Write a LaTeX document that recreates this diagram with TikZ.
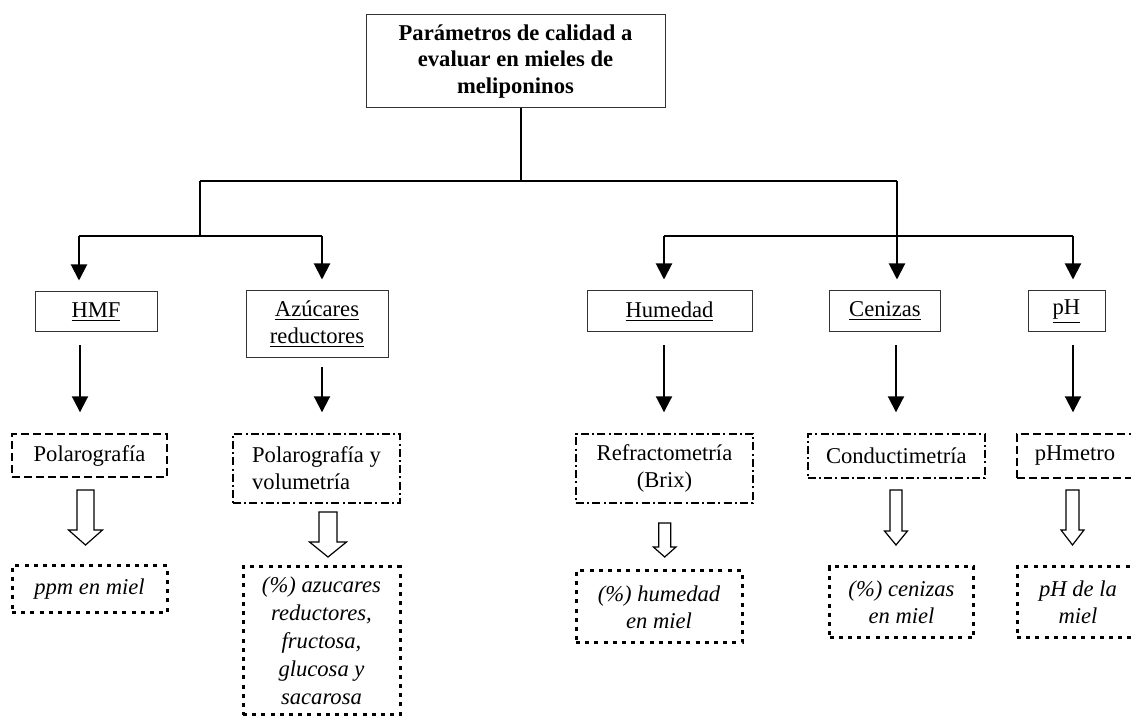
\documentclass[tikz,border=0pt]{standalone}
\usepackage{fontspec}
\setmainfont{Liberation Serif}
\usetikzlibrary{arrows.meta}
\newcommand\hollowdn[6]{%
  \draw[hol] ({#1-#5},#2) -- ({#1+#5},#2) -- ({#1+#5},#3) -- ({#1+#6},#3) -- (#1,#4) -- ({#1-#6},#3) -- ({#1-#5},#3) -- cycle;}
\tikzset{
  every node/.style={inner sep=0pt, align=center, font=\fontsize{11.3}{13.4}\selectfont},
  solidbox/.style={draw=black!80, line width=0.5pt},
  dashbox/.style={draw=black, line width=0.7pt, dash pattern=on 4pt off 2pt},
  dotdashbox/.style={draw=black, line width=0.7pt, dash pattern=on 4pt off 1.6pt on 1pt off 1.6pt},
  resbox/.style={draw=black, line width=1.5pt, dash pattern=on 2pt off 2.6pt},
  conn/.style={line width=1pt},
  arr/.style={conn, -{Triangle[width=8pt,length=8pt]}},
  hol/.style={draw=black, line width=0.6pt, fill=white},
}
\begin{document}
\begin{tikzpicture}[x=0.5pt,y=-0.5pt]
\path[use as bounding box, fill=white] (0,0) rectangle (1131,716);
\clip (0,0) rectangle (1131,716);

% top node
\node[solidbox, minimum width=149.5pt, minimum height=46.5pt, font=\fontsize{11.3}{13.4}\selectfont\bfseries] (top) at (515.5,61.5)
  {Parámetros de calidad a\\evaluar en mieles de\\meliponinos};

% level 1
\node[solidbox, minimum width=61pt, minimum height=20pt] (hmf) at (96,312) {\underline{HMF}};
\node[solidbox, minimum width=71pt, minimum height=33.5pt] (azu) at (317,324.5) {\underline{Azúcares}\\\underline{reductores}};
\node[solidbox, minimum width=82.5pt, minimum height=20.5pt] (hum) at (669.5,311.5) {\underline{Humedad}};
\node[solidbox, minimum width=55.5pt, minimum height=20.5pt] (cen) at (885,311.5) {\underline{Cenizas}};
\node[solidbox, minimum width=38.5pt, minimum height=20.5pt] (ph) at (1066.5,311.5) {\underline{pH}};

% level 2 (methods)
\node[dashbox, minimum width=77.5pt, minimum height=21.5pt] (pol) at (89.5,455.5) {Polarografía};
\node[dotdashbox, minimum width=83.5pt, minimum height=34.5pt, align=left] (polvol) at (316.5,468.5) {Polarografía y\\volumetría};
\node[dotdashbox, minimum width=88.5pt, minimum height=34.5pt] (ref) at (664.5,468.5) {Refractometría\\(Brix)};
\node[dotdashbox, minimum width=88.5pt, minimum height=22pt] (con) at (896.3,456) {Conductimetría};
\node[dashbox, minimum width=58pt, minimum height=22pt] (phm) at (1075,456) {pHmetro};

% level 3 (results)
\node[resbox, minimum width=77.5pt, minimum height=23.5pt, font=\fontsize{11.3}{13.4}\selectfont\itshape] (ppm) at (89.5,589.5) {ppm en miel};
\node[resbox, minimum width=78.5pt, minimum height=74pt, font=\fontsize{11.3}{14}\selectfont\itshape] (azr) at (321.5,641) {(\%) azucares\\reductores,\\fructosa,\\glucosa y\\sacarosa};
\node[resbox, minimum width=83pt, minimum height=36pt, font=\fontsize{11.3}{13.4}\selectfont\itshape] (humr) at (659,607) {(\%) humedad\\en miel};
\node[resbox, minimum width=72pt, minimum height=35.5pt, font=\fontsize{11.3}{13.4}\selectfont\itshape] (cenr) at (901.5,602.5) {(\%) cenizas\\en miel};
\node[resbox, minimum width=61pt, minimum height=35.5pt, font=\fontsize{11.3}{13.4}\selectfont\itshape] (phr) at (1078,602.5) {pH de la\\miel};

% tree connectors
\coordinate (j) at (521,181);
\coordinate (jl) at (200,181);
\coordinate (jr) at (897,181);
\coordinate (bl) at (200,236);
\coordinate (bl1) at (79,236);
\coordinate (bl2) at (322,236);
\coordinate (br1) at (664,236);
\coordinate (br2) at (1073,236);
\draw[conn] (j |- top.south) -- (j);
\draw[conn] (jl) -- (jr);
\draw[conn] (jl) -- (bl);
\draw[conn] (bl1) -- (bl2);
\draw[conn] (br1) -- (br2);
\draw[arr, shorten >=5.5pt] (bl1) -- (bl1 |- hmf.north);
\draw[arr, shorten >=5.5pt] (bl2) -- (bl2 |- azu.north);
\draw[arr, shorten >=5.5pt] (jr) -- (jr |- cen.north);
\draw[arr, shorten >=5.5pt] (br1) -- (br1 |- hum.north);
\draw[arr, shorten >=5.5pt] (br2) -- (br2 |- ph.north);

% second level arrows
\coordinate (xh) at (80,0);
\coordinate (xa) at (322,0);
\coordinate (xu) at (664,0);
\coordinate (xc) at (896,0);
\coordinate (xp) at (1073,0);
\draw[arr, shorten <=6.5pt, shorten >=10.5pt] (xh |- hmf.south) -- (xh |- pol.north);
\draw[arr, shorten <=4.5pt, shorten >=10.5pt] (xa |- azu.south) -- (xa |- polvol.north);
\draw[arr, shorten <=6.5pt, shorten >=10.5pt] (xu |- hum.south) -- (xu |- ref.north);
\draw[arr, shorten <=6.5pt, shorten >=10.5pt] (xc |- cen.south) -- (xc |- con.north);
\draw[arr, shorten <=6.5pt, shorten >=10.5pt] (xp |- ph.south) -- (xp |- phm.north);

% hollow arrows
\hollowdn{85.5}{490}{530}{545}{8.5}{17}
\hollowdn{328}{512}{542}{557}{9}{18.5}
\hollowdn{664.7}{523}{547}{557}{6}{11.3}
\hollowdn{896}{490}{531}{545}{6}{11.5}
\hollowdn{1072.5}{490}{530}{545}{6.5}{11.5}
\end{tikzpicture}
\end{document}
